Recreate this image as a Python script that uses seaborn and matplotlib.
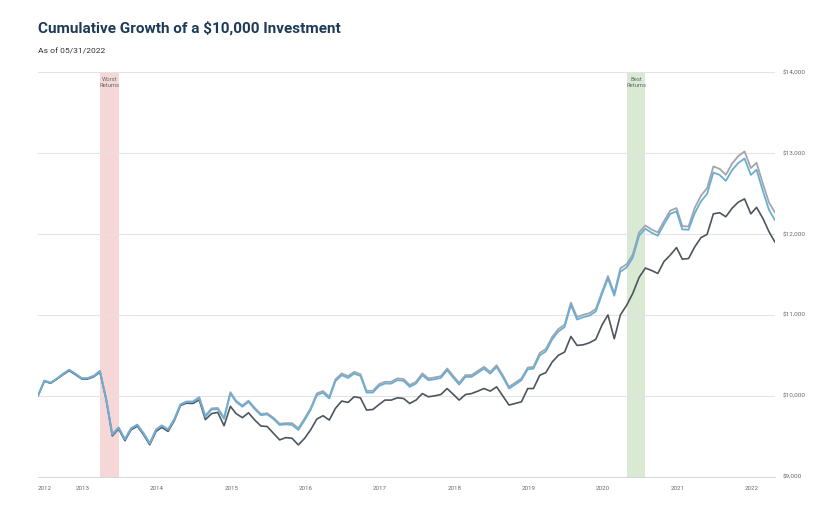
import matplotlib
matplotlib.use("Agg")
import matplotlib.pyplot as plt
import matplotlib.ticker as mticker
import seaborn as sns
import pandas as pd

# month-end values, 06/2012 .. 05/2022
dates = pd.date_range("2012-06-30", periods=120, freq="ME")

fund_gross = [
    10003, 10188, 10163, 10213, 10273, 10323, 10273, 10218, 10218, 10248, 10308, 9963,
    9525, 9610, 9465, 9600, 9645, 9540, 9415, 9585, 9635, 9585, 9710, 9895, 9930, 9930,
    9985, 9755, 9845, 9850, 9730, 10045, 9940, 9880, 9940, 9850, 9775, 9785, 9728, 9655, 9662,
    9662, 9600, 9722, 9846, 10030, 10059, 9989, 10202, 10277, 10243, 10296, 10268, 10062, 10062,
    10145, 10173, 10173, 10215, 10207, 10133, 10173, 10277, 10215, 10227, 10243, 10338, 10243,
    10161, 10256, 10256, 10309, 10358, 10296, 10379, 10256, 10112, 10161, 10215, 10350, 10358,
    10530, 10579, 10727, 10825, 10880, 11153, 10973, 11002, 11022, 11072, 11288, 11481, 11268,
    11577, 11627, 11750, 12020, 12106, 12057, 12020, 12159, 12290, 12321, 12098, 12094,
    12322, 12475, 12567, 12836, 12806, 12732, 12872, 12963, 13022, 12816, 12881, 12624, 12390, 12260,
]

fund = [
    10000, 10185, 10160, 10210, 10270, 10320, 10270, 10215, 10215, 10245, 10305, 9960,
    9520, 9605, 9460, 9595, 9640, 9535, 9410, 9580, 9630, 9580, 9705, 9890, 9925, 9925,
    9970, 9740, 9830, 9835, 9715, 10030, 9925, 9865, 9925, 9835, 9760, 9770, 9713, 9640, 9647,
    9640, 9578, 9700, 9824, 10008, 10037, 9967, 10180, 10255, 10221, 10274, 10246, 10040, 10040,
    10123, 10151, 10151, 10193, 10185, 10111, 10151, 10255, 10193, 10205, 10221, 10316, 10221,
    10139, 10234, 10234, 10287, 10336, 10274, 10357, 10234, 10090, 10139, 10193, 10328, 10336,
    10500, 10549, 10697, 10795, 10850, 11123, 10943, 10972, 10992, 11042, 11258, 11451, 11238,
    11537, 11587, 11710, 11980, 12066, 12017, 11980, 12119, 12250, 12281, 12058, 12054,
    12257, 12405, 12497, 12761, 12731, 12657, 12792, 12878, 12934, 12731, 12796, 12534, 12300, 12165,
]

index = [
    10000, 10180, 10155, 10205, 10262, 10310, 10262, 10208, 10207, 10236, 10295, 9950,
    9505, 9590, 9445, 9580, 9625, 9520, 9395, 9560, 9610, 9560, 9690, 9880, 9910, 9905,
    9950, 9705, 9780, 9795, 9630, 9870, 9780, 9730, 9790, 9700, 9627, 9620, 9536, 9455, 9483,
    9475, 9393, 9475, 9578, 9713, 9754, 9700, 9844, 9935, 9918, 9988, 9975, 9824, 9831,
    9893, 9947, 9947, 9975, 9967, 9905, 9947, 10028, 9988, 10000, 10016, 10090, 10016,
    9947, 10016, 10028, 10058, 10090, 10058, 10111, 10000, 9886, 9905, 9926, 10090, 10090,
    10254, 10287, 10418, 10500, 10541, 10734, 10623, 10631, 10656, 10697, 10877, 11000, 10705,
    11000, 11120, 11267, 11464, 11580, 11550, 11513, 11660, 11740, 11833, 11690, 11697,
    11840, 11956, 11996, 12250, 12263, 12214, 12320, 12394, 12435, 12250, 12330, 12195, 12030, 11894,
]

year_ticks = ["2012-06-30"] + [f"{y}-01-01" for y in range(2013, 2023)]
year_labels = [str(y) for y in range(2012, 2023)]

worst_period = ("2013-04-30", "2013-07-31")
best_period = ("2020-05-31", "2020-08-31")

df = pd.DataFrame({"date": dates, "gross": fund_gross, "fund": fund, "index": index})

sns.set_style("white")
plt.rcParams["font.family"] = ["Roboto", "DejaVu Sans"]

fig = plt.figure(figsize=(8.21, 5.14), dpi=100)
ax = fig.add_axes([0.0463, 0.0726, 0.898, 0.7867])

ax.axvspan(pd.Timestamp(worst_period[0]), pd.Timestamp(worst_period[1]),
           color="#f5d7d7", lw=0, zorder=0)
ax.axvspan(pd.Timestamp(best_period[0]), pd.Timestamp(best_period[1]),
           color="#d9e9d4", lw=0, zorder=0)

sns.lineplot(data=df, x="date", y="index", ax=ax, color="#4d555d", lw=1.2, zorder=3)
sns.lineplot(data=df, x="date", y="gross", ax=ax, color="#a3a5ab", lw=1.3, zorder=4)
sns.lineplot(data=df, x="date", y="fund", ax=ax, color="#6aaed6", lw=1.3, zorder=5)

ax.set_ylim(9000, 14000)
ax.set_xlim(dates[0], dates[-1])
ax.set_yticks(range(9000, 14001, 1000))
ax.yaxis.set_major_formatter(mticker.StrMethodFormatter("${x:,.0f}"))
ax.yaxis.tick_right()
ax.tick_params(axis="y", length=0, pad=5, labelsize=4.6, labelcolor="#6b6b6b")
ax.grid(axis="y", color="#e3e3e3", lw=0.8)
ax.set_axisbelow(True)

ax.set_xticks([pd.Timestamp(d) for d in year_ticks])
ax.set_xticklabels(year_labels, ha="left")
ax.tick_params(axis="x", length=3, width=0.6, color="#d0d0d0", pad=4,
               labelsize=4.5, labelcolor="#6b6b6b")
ax.set_xlabel("")
ax.set_ylabel("")

for side in ["top", "right", "left"]:
    ax.spines[side].set_visible(False)
ax.spines["bottom"].set_color("#d6d6d6")
ax.spines["bottom"].set_linewidth(0.7)

for (start, end), label in [(worst_period, "Worst\nReturns"), (best_period, "Best\nReturns")]:
    mid = pd.Timestamp(start) + (pd.Timestamp(end) - pd.Timestamp(start)) / 2
    ax.text(mid, 13940, label, ha="center", va="top", fontsize=4.2,
            color="#6b6b6b", linespacing=1.2)

fig.text(0.0463, 0.945, "Cumulative Growth of a $10,000 Investment",
         fontsize=11.0, fontweight="bold", color="#1d3a57", va="center")
fig.text(0.0463, 0.900, "As of 05/31/2022", fontsize=6.1, color="#333333", va="center")

fig.savefig("out.png", dpi=100)
